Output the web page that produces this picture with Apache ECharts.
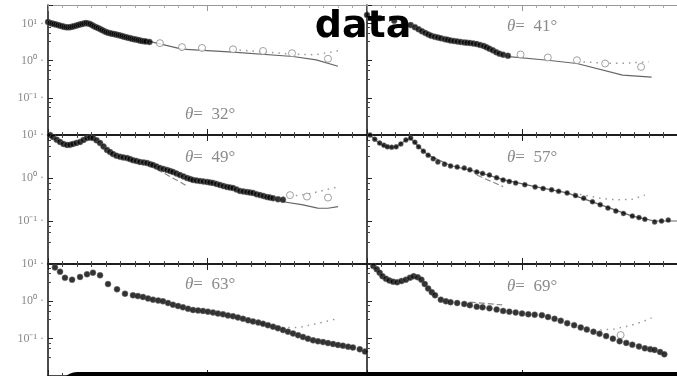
<!DOCTYPE html>
<html><head><meta charset="utf-8">
<script src="https://cdn.jsdelivr.net/npm/echarts@6/dist/echarts.min.js"></script>
<style>html,body{margin:0;padding:0;background:#fff}#c{width:677px;height:376px}</style>
</head><body><div id="c"></div>
<script>
// ---------- data ----------
const titleText = 'Theory compared with the\ndata';
const thetas = [32, 41, 49, 57, 63, 69];
const yTickExponents = [1, 0, -1];
const yTickLabels = ['10¹', '10⁰', '10⁻¹'];

// panel 1 (θ=32°)
const p1Filled = [[0.0,11.0],[0.14,10.3],[0.28,10.0],[0.41,9.7],[0.55,9.4],[0.69,9.1],[0.83,8.8],[0.97,8.5],[1.1,8.2],[1.24,8.0],[1.38,7.9],[1.52,8.0],[1.65,8.2],[1.79,8.5],[1.93,8.8],[2.07,9.1],[2.2,9.4],[2.34,9.7],[2.48,10.0],[2.62,10.3],[2.76,10.0],[2.9,9.7],[3.03,9.1],[3.17,8.5],[3.31,8.0],[3.45,7.6],[3.59,7.1],[3.72,6.7],[3.86,6.3],[4.0,5.9],[4.14,5.7],[4.28,5.5],[4.41,5.35],[4.55,5.2],[4.69,5.05],[4.83,4.9],[4.97,4.75],[5.1,4.6],[5.24,4.45],[5.38,4.3],[5.52,4.15],[5.66,4.05],[5.79,3.9],[5.93,3.8],[6.07,3.7],[6.21,3.6],[6.34,3.5],[6.48,3.4],[6.62,3.35],[6.76,3.3],[7.0,3.2]];
const p1Hollow = [[7.72,2.97],[9.24,2.32],[10.62,2.2],[12.76,2.03],[14.83,1.83],[16.83,1.59],[19.31,1.13]];
const p1Solid = [[7.0,3.3],[9.24,2.05],[12.76,1.7],[16.9,1.3],[18.5,1.05],[20.0,0.71]];
const p1Dotted = [[12.76,2.0],[16.9,1.5],[18.5,1.45],[20.0,1.85]];

// panel 2 (θ=41°)
const p2Filled = [[0,17],[0.9,14],[1.93,12],[2.62,10.3],[3.1,9.1],[3.4,8.0],[3.66,7.0],[3.9,6.2],[4.14,5.6],[4.35,5.1],[4.55,4.7],[4.8,4.4],[5.03,4.2],[5.25,4.0],[5.52,3.8],[5.72,3.65],[5.93,3.5],[6.17,3.4],[6.41,3.3],[6.65,3.2],[6.9,3.1],[7.1,3.05],[7.31,3.0],[7.55,2.9],[7.79,2.8],[8.03,2.65],[8.28,2.5],[8.48,2.3],[8.69,2.1],[8.93,1.9],[9.17,1.7],[9.4,1.55],[9.66,1.45],[10.0,1.35]];
const p2Hollow = [[10.9,1.47],[12.83,1.22],[14.9,1.03],[16.9,0.84],[19.45,0.68]];
const p2Solid = [[10.07,1.29],[12.83,1.03],[14.9,0.84],[18.14,0.41],[20.2,0.36]];
const p2Dotted = [[14.9,0.95],[16.9,0.86],[18.5,0.86],[20.0,0.94]];

// panel 3 (θ=49°)
const p3Filled = [[0.14,10],[0.34,9.0],[0.6,7.8],[0.83,6.9],[1.07,6.2],[1.31,5.85],[1.52,5.9],[1.72,6.2],[1.96,6.5],[2.21,6.9],[2.45,7.7],[2.69,8.5],[2.9,8.7],[3.1,8.5],[3.35,7.5],[3.59,6.5],[3.83,5.4],[4.07,4.5],[4.28,4.0],[4.48,3.6],[4.72,3.3],[4.97,3.1],[5.2,3.0],[5.45,2.9],[5.65,2.75],[5.86,2.6],[6.1,2.48],[6.34,2.36],[6.6,2.3],[6.83,2.23],[7.05,2.1],[7.24,2.0],[7.48,1.85],[7.72,1.71],[7.96,1.62],[8.21,1.54],[8.42,1.46],[8.62,1.38],[8.86,1.27],[9.1,1.17],[9.35,1.08],[9.59,1.0],[9.8,0.95],[10.0,0.9],[10.24,0.87],[10.48,0.85],[10.72,0.83],[10.97,0.81],[11.17,0.79],[11.38,0.77],[11.62,0.73],[11.86,0.69],[12.1,0.65],[12.34,0.62],[12.55,0.6],[12.76,0.585],[13.0,0.54],[13.24,0.5],[13.48,0.485],[13.72,0.47],[13.93,0.46],[14.14,0.45],[14.38,0.42],[14.62,0.4],[14.86,0.38],[15.1,0.36],[15.3,0.35],[15.52,0.34],[15.86,0.32],[16.2,0.31]];
const p3Hollow = [[16.69,0.40],[17.86,0.37],[19.31,0.35]];
const p3Solid = [[16.2,0.28],[17.5,0.24],[18.6,0.2],[19.3,0.198],[20.0,0.215]];
const p3Dotted = [[16.2,0.36],[17.9,0.42],[20.0,0.62]];
const p3Dashed = [[7.5,1.6],[8.6,1.0],[9.6,0.65]];

// panel 4 (θ=57°)
const p4Filled = [[0.21,10],[0.55,8.0],[0.9,6.5],[1.2,5.8],[1.45,5.3],[1.75,5.2],[2.07,5.3],[2.4,6.2],[2.76,7.7],[3.1,8.5],[3.4,6.8],[3.66,5.3],[4.0,4.2],[4.34,3.4],[4.7,2.8],[5.03,2.36],[5.5,2.1],[5.93,1.9],[6.4,1.8],[6.9,1.71],[7.3,1.55],[7.79,1.38],[8.2,1.28],[8.69,1.17],[9.2,1.02],[9.66,0.9],[10.1,0.83],[10.55,0.77],[11.2,0.7],[11.93,0.62],[12.5,0.57],[13.1,0.53],[13.6,0.49],[14.2,0.45],[14.8,0.39],[15.38,0.34],[16.0,0.28],[16.55,0.24],[17.1,0.2],[17.66,0.17],[18.2,0.15],[18.83,0.13],[19.3,0.12],[19.72,0.11],[20.41,0.095],[20.9,0.1],[21.38,0.105]];
const p4Solid = [[0.21,10],[0.9,6.3],[1.45,5.2],[2.07,5.3],[2.76,7.6],[3.1,8.3],[3.66,5.4],[4.34,3.4],[5.93,1.95],[7.79,1.4],[9.66,0.92],[11.93,0.63],[14.2,0.45],[16.55,0.24],[18.83,0.13],[20.41,0.1],[22,0.1]];
const p4Dotted = [[14.2,0.47],[15.4,0.4],[16.55,0.34],[17.66,0.31],[18.83,0.32],[19.72,0.4]];
const p4Dashed = [[7.79,1.17],[9.66,0.63]];

// panel 5 (θ=63°)
const p5Filled = [[0.14,10.5],[0.48,8.1],[0.83,6.2],[1.17,4.25],[1.66,3.8],[2.21,4.5],[2.69,5.3],[3.1,5.85],[3.59,5.0],[4.14,2.9],[4.76,2.1],[5.31,1.6],[5.86,1.45],[6.2,1.38],[6.55,1.31],[6.9,1.2],[7.24,1.11],[7.6,1.05],[7.93,1.0],[8.28,0.9],[8.62,0.81],[8.97,0.75],[9.31,0.69],[9.66,0.63],[10.0,0.585],[10.35,0.57],[10.69,0.555],[11.03,0.53],[11.38,0.5],[11.72,0.47],[12.07,0.45],[12.41,0.42],[12.76,0.4],[13.1,0.37],[13.45,0.34],[13.8,0.31],[14.14,0.29],[14.5,0.27],[14.83,0.25],[15.17,0.23],[15.52,0.21],[15.86,0.19],[16.21,0.17],[16.55,0.154],[16.9,0.138],[17.25,0.124],[17.59,0.111],[17.93,0.1],[18.28,0.09],[18.62,0.085],[18.97,0.081],[19.31,0.076],[19.66,0.072],[20.0,0.068],[20.34,0.065],[20.7,0.061],[21.03,0.058],[21.5,0.052],[21.86,0.045]];
const p5Dotted = [[14.8,0.25],[16.2,0.2],[17.3,0.2],[18.5,0.25],[19.9,0.34]];

// panel 6 (θ=69°)
const p6Filled = [[0.21,10.5],[0.45,8.8],[0.69,7.2],[0.9,5.8],[1.1,4.7],[1.35,4.0],[1.59,3.6],[1.85,3.35],[2.14,3.25],[2.45,3.5],[2.76,3.8],[3.05,4.3],[3.31,4.7],[3.6,4.4],[3.86,3.8],[4.1,2.9],[4.34,2.2],[4.6,1.75],[4.83,1.45],[5.24,1.11],[5.6,1.0],[5.93,0.95],[6.4,0.9],[6.9,0.85],[7.3,0.79],[7.79,0.72],[8.2,0.69],[8.69,0.65],[9.2,0.6],[9.66,0.555],[10.1,0.53],[10.55,0.5],[11.0,0.47],[11.45,0.45],[11.9,0.44],[12.41,0.425],[12.85,0.38],[13.31,0.34],[13.75,0.3],[14.21,0.26],[14.7,0.23],[15.17,0.2],[15.6,0.175],[16.07,0.153],[16.5,0.135],[16.97,0.117],[17.45,0.1],[17.93,0.085],[18.4,0.077],[18.83,0.069],[19.3,0.062],[19.72,0.055],[20.1,0.052],[20.41,0.05],[20.8,0.044],[21.1,0.038]];
const p6Hollow = [[18.0,0.125]];
const p6Dotted = [[16.55,0.17],[17.5,0.18],[18.6,0.22],[19.5,0.28],[20.2,0.36]];
const p6Dashed = [[7.3,0.95],[9.6,0.8]];

// ---------- layout ----------
const panels = [
  { grid:{left:48, top:5,   width:319, height:130}, yMin:0.01, yMax:31.62, labels:true,  topColor:'#999', theta:[185,115],
    filled:p1Filled, hollow:p1Hollow, solid:p1Solid, dotted:p1Dotted, dashed:null },
  { grid:{left:367, top:5,  width:319, height:130}, yMin:0.01, yMax:31.62, labels:false, topColor:'#999', theta:[507,27],
    filled:p2Filled, hollow:p2Hollow, solid:p2Solid, dotted:p2Dotted, dashed:null },
  { grid:{left:48, top:135, width:319, height:129}, yMin:0.01, yMax:10, labels:true,  topColor:'#111', theta:[185,158],
    filled:p3Filled, hollow:p3Hollow, solid:p3Solid, dotted:p3Dotted, dashed:p3Dashed },
  { grid:{left:367, top:135,width:319, height:129}, yMin:0.01, yMax:10, labels:false, topColor:'#111', theta:[507,158],
    filled:p4Filled, hollow:null, solid:p4Solid, dotted:p4Dotted, dashed:p4Dashed, small:true },
  { grid:{left:48, top:264, width:319, height:129}, yMin:0.01, yMax:10, labels:true,  topColor:'#111', theta:[185,285],
    filled:p5Filled, hollow:null, solid:null, dotted:p5Dotted, dashed:null },
  { grid:{left:367, top:264,width:319, height:129}, yMin:0.01, yMax:10, labels:false, topColor:'#111', theta:[507,287],
    filled:p6Filled, hollow:p6Hollow, solid:null, dotted:p6Dotted, dashed:p6Dashed }
];

function yLabel(v) {
  const l = Math.log10(v);
  const e = Math.round(l);
  if (Math.abs(l - e) > 1e-6) return '';
  const i = yTickExponents.indexOf(e);
  return i >= 0 ? yTickLabels[i] + ' ·' : '';
}

const grid = [], xAxis = [], yAxis = [], series = [], graphic = [];
panels.forEach((p, i) => {
  grid.push(Object.assign({containLabel:false}, p.grid));
  const light = p.topColor === '#999';
  const xBase = {type:'value', gridIndex:i, min:0, max:22, interval:11,
    axisLabel:{show:false}, splitLine:{show:false},
    axisTick:{show:true, inside:true, length:6, lineStyle:{color:'#222', width:1}},
    minorTick:{show:true, splitNumber:11, length:3, lineStyle:{color:'#444', width:1}}};
  xAxis.push(Object.assign({}, xBase, {position:'bottom', axisLine:{show:true, onZero:false, lineStyle:{color:'#111', width:1.5}}}));
  xAxis.push(Object.assign({}, xBase, {position:'top', axisLine:{show:true, onZero:false, lineStyle:{color:p.topColor, width:light?1:1.5}},
    axisTick:{show:true, inside:true, length:6, lineStyle:{color:light?'#999':'#222'}},
    minorTick:{show:true, splitNumber:11, length:3, lineStyle:{color:light?'#aaa':'#444'}}}));
  yAxis.push({type:'log', logBase:10, gridIndex:i, min:p.yMin, max:p.yMax,
    axisLine:{show:true, onZero:false, lineStyle:{color:'#111', width:1.5}},
    axisTick:{show:true, inside:true, length:5, lineStyle:{color:'#222'}},
    minorTick:{show:true, splitNumber:4, length:3, lineStyle:{color:'#444'}},
    splitLine:{show:false},
    axisLabel:{show:p.labels, formatter:yLabel, margin:4, color:'#8a8a8a', fontSize:12, fontFamily:'Liberation Serif'}});
  const xi = i * 2;
  if (p.solid) series.push({type:'line', xAxisIndex:xi, yAxisIndex:i, data:p.solid, showSymbol:false, symbol:'none',
    lineStyle:{color:'#666', width:1.2}, z:2, silent:true});
  if (p.dotted) series.push({type:'line', xAxisIndex:xi, yAxisIndex:i, data:p.dotted, showSymbol:false, symbol:'none',
    lineStyle:{color:'#999', width:1.5, type:[1.5,5]}, z:2, silent:true});
  if (p.dashed) series.push({type:'line', xAxisIndex:xi, yAxisIndex:i, data:p.dashed, showSymbol:false, symbol:'none',
    lineStyle:{color:'#888', width:1.2, type:[6,3]}, z:2, silent:true});
  if (p.hollow) series.push({type:'scatter', xAxisIndex:xi, yAxisIndex:i, data:p.hollow, symbol:'circle', symbolSize:7,
    itemStyle:{color:'#fff', borderColor:'#8a8a8a', borderWidth:1}, z:3, silent:true});
  series.push({type:'scatter', xAxisIndex:xi, yAxisIndex:i, data:p.filled, symbol:'circle', symbolSize:p.small?5:6,
    itemStyle:{color:'#000', borderColor:'#777', borderWidth:0.6}, z:4, silent:true});
  graphic.push({type:'text', x:p.theta[0], y:p.theta[1], z:10,
    style:{text:'{t|θ}=  ' + thetas[i] + '°', fill:'#8a8a8a', font:'17px "Liberation Serif"', verticalAlign:'middle',
      rich:{t:{fontStyle:'italic', fontSize:17, fontFamily:'Liberation Serif', fill:'#8a8a8a'}}}});
});

graphic.push({type:'rect', z:100, shape:{x:60, y:374, width:700, height:80, r:18},
  style:{fill:'#fff', stroke:'#000', lineWidth:4}});

const chart = echarts.init(document.getElementById('c'), null, {renderer:'canvas'});
chart.setOption({
  animation:false,
  backgroundColor:'#fff',
  title:{text:titleText, left:363, top:-42, textAlign:'center', padding:0, z:6,
    textStyle:{fontFamily:'DejaVu Sans', fontWeight:'bold', fontSize:38, lineHeight:46, color:'#000'}},
  grid, xAxis, yAxis, series, graphic
});
</script></body></html>
